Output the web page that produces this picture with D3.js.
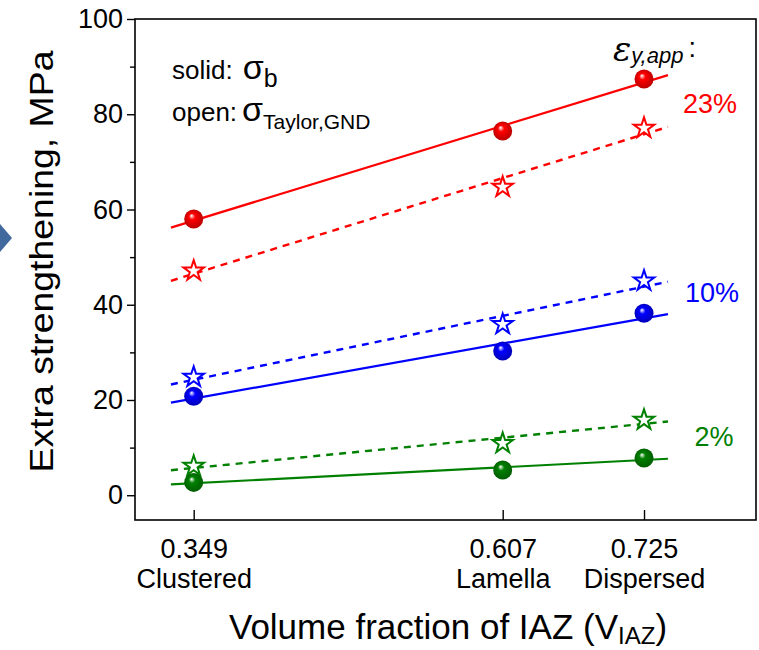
<!DOCTYPE html>
<html>
<head>
<meta charset="utf-8">
<script src="https://cdn.jsdelivr.net/npm/d3@7"></script>
<style>
  body { margin: 0; background: #fff; }
  svg text { font-family: "Liberation Sans", Arial, sans-serif; }
</style>
</head>
<body>
<div id="container"></div>
<script>
// data
const xValues = [0.349, 0.607, 0.725];
const xNames = ["Clustered", "Lamella", "Dispersed"];
const strain23Solid = [58.0, 76.5, 87.4];
const strain23Open = [47.1, 64.7, 77.1];
const strain10Solid = [20.8, 30.3, 38.2];
const strain10Open = [24.8, 35.9, 45.0];
const strain2Solid = [2.7, 5.3, 7.8];
const strain2Open = [6.1, 10.9, 15.8];
const strainLabels = ["23%", "10%", "2%"];
const yTicks = [0, 20, 40, 60, 80, 100];
const yMinorTicks = [10, 30, 50, 70, 90];
const fitRange = [0.33, 0.745];

const W = 759, H = 650;
const margin = {left: 135, right: 3, top: 19, bottom: 130};

var red = '#ff0000', blue = '#0000ff', green = '#008000';

var series = [
  {key: 'r', color: red, solid: strain23Solid, open: strain23Open, label: strainLabels[0]},
  {key: 'b', color: blue, solid: strain10Solid, open: strain10Open, label: strainLabels[1]},
  {key: 'g', color: green, solid: strain2Solid, open: strain2Open, label: strainLabels[2]}
];

var svg = d3.select('#container').append('svg')
  .attr('width', W).attr('height', H);

var defs = svg.append('defs');
series.forEach(function(s) {
  var g = defs.append('radialGradient')
    .attr('id', 'ball-' + s.key)
    .attr('cx', '50%').attr('cy', '50%').attr('r', '55%')
    .attr('fx', '38%').attr('fy', '32%');
  g.append('stop').attr('offset', '0%').attr('stop-color', '#ffffff');
  g.append('stop').attr('offset', '30%').attr('stop-color', s.color);
  g.append('stop').attr('offset', '100%').attr('stop-color', d3.color(s.color).darker(1));
});

var x = d3.scaleLinear().domain([0.30, 0.8185]).range([margin.left, W - margin.right]);
var y = d3.scaleLinear().domain([-5.2, 100]).range([H - margin.bottom, margin.top]);

// slide arrow on the left edge
svg.append('path')
  .attr('d', 'M0,224 L12,238 L0,252 Z')
  .attr('fill', '#41699e');

// frame
svg.append('rect')
  .attr('x', x.range()[0]).attr('y', y.range()[1])
  .attr('width', x.range()[1] - x.range()[0])
  .attr('height', y.range()[0] - y.range()[1])
  .attr('fill', 'none').attr('stroke', '#000').attr('stroke-width', 1.6);

// y axis
var yAxis = d3.axisLeft(y).tickValues(yTicks).tickSize(8).tickPadding(4);
var gy = svg.append('g').attr('transform', 'translate(' + x.range()[0] + ',0)').call(yAxis);
gy.select('.domain').remove();
gy.selectAll('line').attr('stroke-width', 1.4);
gy.selectAll('text').attr('font-size', 27).attr('fill', '#000');
svg.append('g').attr('transform', 'translate(' + x.range()[0] + ',0)')
  .call(d3.axisLeft(y).tickValues(yMinorTicks).tickSize(5).tickFormat(''))
  .call(function(g) { g.select('.domain').remove(); g.selectAll('line').attr('stroke-width', 1.4); });

// x axis: ticks pointing inward
var xAxis = d3.axisBottom(x).tickValues(xValues).tickSize(-10).tickFormat('');
var gx = svg.append('g').attr('transform', 'translate(0,' + y.range()[0] + ')').call(xAxis);
gx.select('.domain').remove();
gx.selectAll('line').attr('stroke-width', 1.4);
gx.selectAll('.tick').append('text')
  .attr('y', 38).attr('text-anchor', 'middle').attr('font-size', 27).attr('fill', '#000')
  .text(function(d) { return d3.format('.3f')(d); });
gx.selectAll('.tick').append('text')
  .attr('y', 68).attr('text-anchor', 'middle').attr('font-size', 27).attr('fill', '#000')
  .text(function(d, i) { return xNames[i]; });

// axis titles
var xt = svg.append('text').attr('x', 448).attr('y', 639).attr('text-anchor', 'middle')
  .attr('font-size', 35).attr('fill', '#000');
xt.append('tspan').text('Volume fraction of IAZ (V');
xt.append('tspan').attr('font-size', 24).attr('dy', 5).text('IAZ');
xt.append('tspan').attr('dy', -5).text(')');

svg.append('text')
  .attr('transform', 'translate(53,' + ((y.range()[0] + y.range()[1]) / 2 - 8) + ') rotate(-90) scale(1.1,1)')
  .attr('text-anchor', 'middle').attr('font-size', 34).attr('fill', '#000')
  .text('Extra strengthening, MPa');

// linear fits
function fit(xs, ys) {
  var mx = d3.mean(xs), my = d3.mean(ys);
  var sxy = d3.sum(xs, function(v, i) { return (v - mx) * (ys[i] - my); });
  var sxx = d3.sum(xs, function(v) { return (v - mx) * (v - mx); });
  var b = sxy / sxx;
  return function(v) { return my + b * (v - mx); };
}
var line = d3.line().x(function(d) { return x(d[0]); }).y(function(d) { return y(d[1]); });

series.forEach(function(s) {
  var fs = fit(xValues, s.solid), fo = fit(xValues, s.open);
  svg.append('path').datum(fitRange.map(function(v) { return [v, fs(v)]; }))
    .attr('d', line).attr('fill', 'none').attr('stroke', s.color).attr('stroke-width', 2.2);
  svg.append('path').datum(fitRange.map(function(v) { return [v, fo(v)]; }))
    .attr('d', line).attr('fill', 'none').attr('stroke', s.color).attr('stroke-width', 2.4)
    .attr('stroke-dasharray', '7,6');
});

var star = d3.symbol().type(d3.symbolStar).size(130);
series.forEach(function(s) {
  svg.append('g').selectAll('path').data(s.open).join('path')
    .attr('transform', function(d, i) { return 'translate(' + x(xValues[i]) + ',' + y(d) + ')'; })
    .attr('d', star).attr('fill', '#fff').attr('stroke', s.color).attr('stroke-width', 2);
  svg.append('g').selectAll('circle').data(s.solid).join('circle')
    .attr('cx', function(d, i) { return x(xValues[i]); })
    .attr('cy', function(d) { return y(d); })
    .attr('r', 9.5).attr('fill', 'url(#ball-' + s.key + ')');
});

// strain labels
var labelPos = [[710, 113], [712, 302], [714, 446]];
series.forEach(function(s, i) {
  svg.append('text').attr('x', labelPos[i][0]).attr('y', labelPos[i][1])
    .attr('text-anchor', 'middle').attr('font-size', 27).attr('fill', s.color).text(s.label);
});

// legend text
var l1 = svg.append('text').attr('x', 172).attr('y', 79).attr('font-size', 26).attr('fill', '#000');
l1.append('tspan').text('solid:');
l1.append('tspan').attr('dx', 10).attr('font-size', 34).text('σ');
l1.append('tspan').attr('font-size', 25).attr('dy', 8).text('b');
var l2 = svg.append('text').attr('x', 172).attr('y', 121).attr('font-size', 26).attr('fill', '#000');
l2.append('tspan').text('open:');
l2.append('tspan').attr('dx', 5).attr('font-size', 34).text('σ');
l2.append('tspan').attr('font-size', 21).attr('dy', 8).text('Taylor,GND');

var eps = svg.append('text').attr('x', 613).attr('y', 61).attr('fill', '#000')
  .attr('font-style', 'italic');
eps.append('tspan').attr('font-size', 34).attr('font-family', 'DejaVu Serif, serif').text('ε');
eps.append('tspan').attr('font-size', 22).attr('dy', 2).text('y,app');
eps.append('tspan').attr('font-size', 27).attr('font-style', 'normal').attr('dx', 5).attr('dy', -6).text(':');
</script>
</body>
</html>
